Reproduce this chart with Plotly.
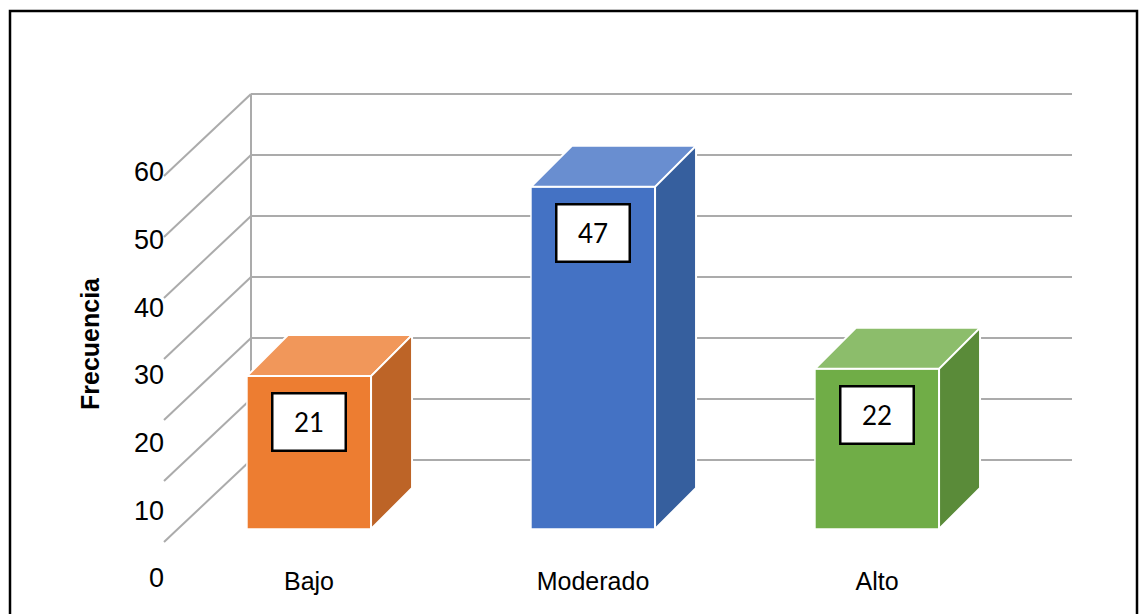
import plotly.graph_objects as go

# ---- data -------------------------------------------------------------
categories = ["Bajo", "Moderado", "Alto"]
frequencies = [21, 47, 22]
axis_ticks = [0, 10, 20, 30, 40, 50, 60]

# ---- styling ----------------------------------------------------------
front_colors = ["#ED7D31", "#4472C4", "#70AD47"]
top_colors = ["#F1975A", "#698ED0", "#8CBD6B"]
side_colors = ["#BD6427", "#365F9E", "#5A8B39"]
grid_color = "#ABABAB"
sans = "Liberation Sans, Arial, sans-serif"
label_font = "Lato, Carlito, Calibri, sans-serif"

W, H = 1145, 614

# Screen scales (pixels per unit) for the three vertical planes of the
# pseudo-3D box: back wall, bar plane and front edge of the side wall.
CAT_PX = 284.0          # pixels between neighbouring categories
CAT_CENTER_PX = 593.0   # pixel position of the middle category
WALL_BASE_PX, WALL_SCALE = 460.0, 6.1
BAR_BASE_PX, BAR_SCALE = 529.0, 7.28
EDGE_BASE_PX, EDGE_SCALE = 578.0, 6.77


def x_range():
    return [(0 - CAT_CENTER_PX) / CAT_PX + 1, (W - CAT_CENTER_PX) / CAT_PX + 1]


def y_range(base_px, scale):
    return [(base_px - H) / scale, base_px / scale]


# Depth of the bars (extrusion toward the back), in axis units
BAR_WIDTH = 0.437
DEPTH_X = 41 / CAT_PX
DEPTH_Y = 41 / BAR_SCALE

# Wall geometry in axis units
WALL_X0 = (251 - CAT_CENTER_PX) / CAT_PX + 1
WALL_X1 = (1072 - CAT_CENTER_PX) / CAT_PX + 1
WALL_DEPTH_X = 87 / CAT_PX
WALL_DEPTH_Y = 82 / WALL_SCALE

fig = go.Figure()

# Back wall gridlines, side-wall diagonals and the back corner edge
wx, wy = [], []
for g in axis_ticks:
    wx += [WALL_X0, WALL_X1, None]
    wy += [g, g, None]
    wx += [WALL_X0 - WALL_DEPTH_X, WALL_X0, None]
    wy += [g - WALL_DEPTH_Y, g, None]
wx += [WALL_X0, WALL_X0]
wy += [axis_ticks[0], axis_ticks[-1]]
fig.add_trace(go.Scatter(
    x=wx, y=wy, mode="lines", yaxis="y",
    line=dict(color=grid_color, width=2),
    hoverinfo="skip", showlegend=False,
))

# Front faces of the columns
xs = list(range(len(categories)))
fig.add_trace(go.Bar(
    x=xs, y=frequencies, width=BAR_WIDTH, yaxis="y2",
    marker=dict(color=front_colors, line=dict(color="white", width=1.5)),
    hoverinfo="skip", showlegend=False,
))

# Invisible trace so the front-edge value axis is laid out
fig.add_trace(go.Scatter(x=[None], y=[None], yaxis="y3",
                         hoverinfo="skip", showlegend=False))

# Top and side faces of each column
shapes = []
for i, v in enumerate(frequencies):
    xl, xr = i - BAR_WIDTH / 2, i + BAR_WIDTH / 2
    top = (f"M {xl},{v} L {xl + DEPTH_X},{v + DEPTH_Y} "
           f"L {xr + DEPTH_X},{v + DEPTH_Y} L {xr},{v} Z")
    side = (f"M {xr},{v} L {xr + DEPTH_X},{v + DEPTH_Y} "
            f"L {xr + DEPTH_X},{DEPTH_Y} L {xr},0 Z")
    for path, col in ((top, top_colors[i]), (side, side_colors[i])):
        shapes.append(dict(
            type="path", path=path, xref="x", yref="y2",
            fillcolor=col, line=dict(color="white", width=2), layer="above",
        ))

# Chart frame
shapes.append(dict(
    type="rect", xref="paper", yref="paper",
    x0=10 / W, x1=1137 / W, y0=-0.05, y1=1 - 11 / H,
    line=dict(color="black", width=2.5), fillcolor="rgba(0,0,0,0)",
    layer="above",
))

# Value labels in boxed callouts on the front faces
annotations = []
for i, v in enumerate(frequencies):
    annotations.append(dict(
        x=i, y=v, xref="x", yref="y2", yshift=-46,
        text=str(v), showarrow=False,
        font=dict(family=label_font, size=26, color="black"),
        bgcolor="white", bordercolor="black", borderwidth=2.5,
        width=69, height=53, valign="middle", align="center",
    ))

annotations.append(dict(
    x=90 / W, y=1 - 344 / H, xref="paper", yref="paper",
    xanchor="center", yanchor="middle",
    text="<b>Frecuencia</b>", textangle=-90, showarrow=False,
    font=dict(family=sans, size=25, color="black"),
))

fig.update_layout(
    width=W, height=H,
    margin=dict(l=0, r=0, t=0, b=0),
    paper_bgcolor="white", plot_bgcolor="white",
    shapes=shapes, annotations=annotations,
    xaxis=dict(
        range=x_range(), tickvals=xs, ticktext=categories,
        anchor="free", position=(H - 564) / H,
        showgrid=False, zeroline=False, showline=False, ticks="",
        tickfont=dict(family=sans, size=25, color="black"),
        fixedrange=True,
    ),
    yaxis=dict(
        range=y_range(WALL_BASE_PX, WALL_SCALE),
        visible=False, fixedrange=True,
    ),
    yaxis2=dict(
        range=y_range(BAR_BASE_PX, BAR_SCALE), overlaying="y",
        visible=False, fixedrange=True,
    ),
    yaxis3=dict(
        range=y_range(EDGE_BASE_PX, EDGE_SCALE), overlaying="y",
        anchor="free", position=164 / W, side="left",
        tickvals=axis_ticks, showgrid=False, zeroline=False,
        showline=False, ticks="",
        tickfont=dict(family=sans, size=27, color="black"),
        fixedrange=True,
    ),
)

fig.write_html("out.html")
